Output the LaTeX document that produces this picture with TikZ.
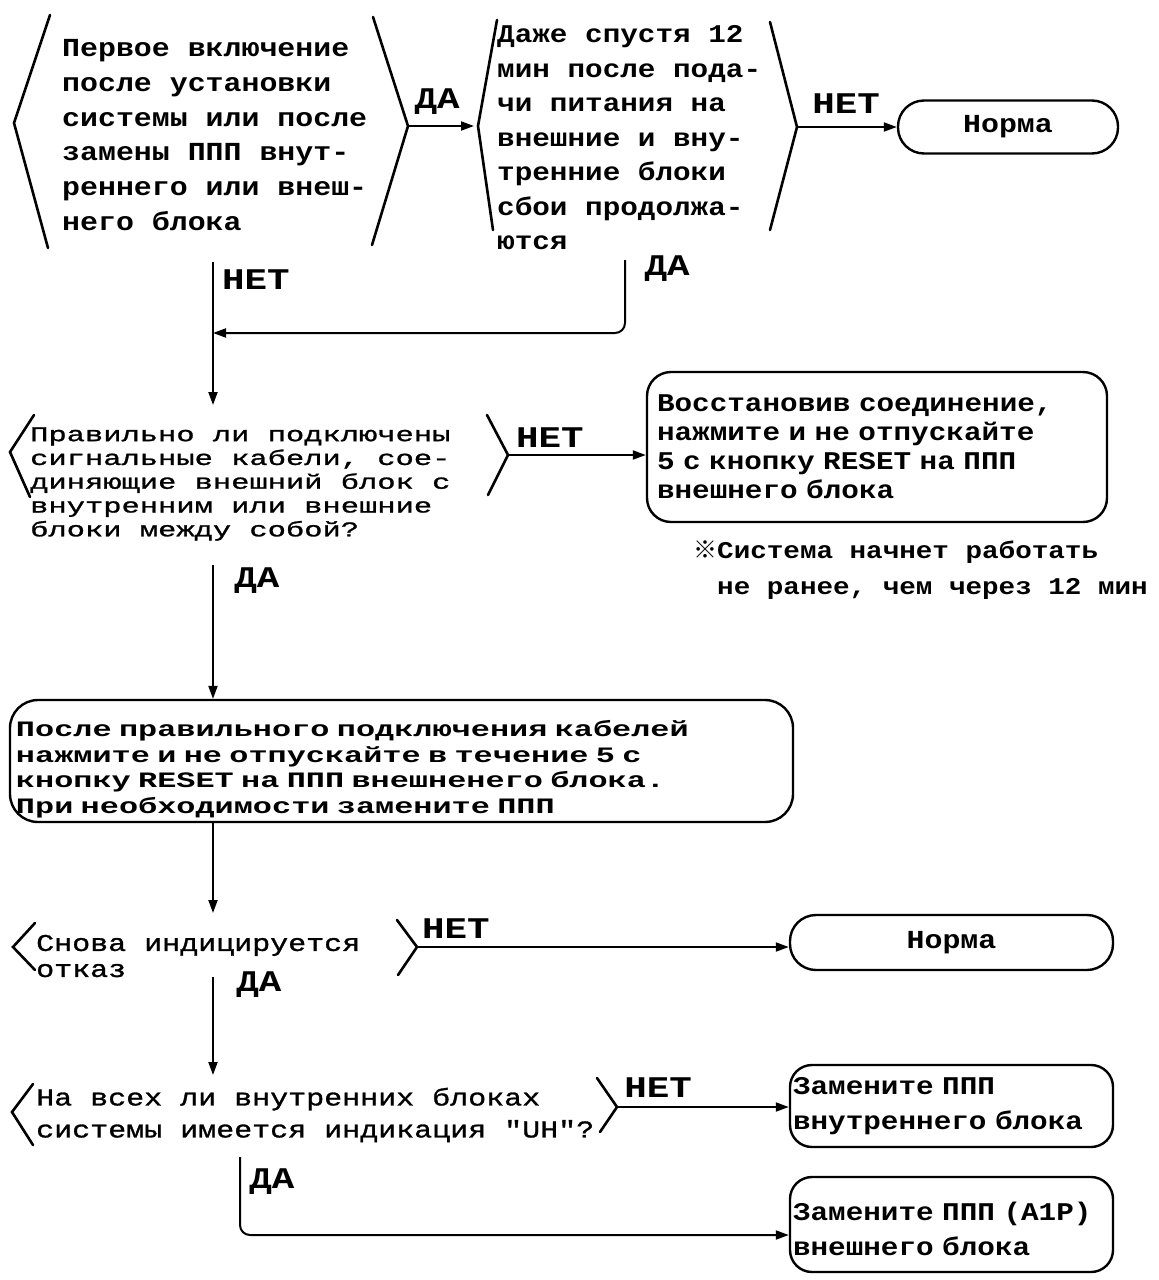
\documentclass[tikz,border=0pt]{standalone}
\usepackage{fontspec}
\setmainfont{Liberation Mono}
\newfontfamily\fwA[FakeStretch=1.15]{Liberation Mono}
\newfontfamily\fwB[FakeStretch=1.45]{Liberation Mono}
\newfontfamily\fwBm[FakeStretch=1.45,FakeBold=1.2]{Liberation Mono}
\newfontfamily\fwC[FakeStretch=1.25]{Liberation Mono}
\newfontfamily\fwCm[FakeStretch=1.25,FakeBold=1.2]{Liberation Mono}
\newfontfamily\refmark{Noto Sans CJK JP}
\usetikzlibrary{arrows.meta}
\newcommand\fsz[2]{\fontsize{#1}{#2}\selectfont}
\begin{document}
\begin{tikzpicture}[x=1pt,y=-1pt,
  bracket/.style={line width=2.6pt,line cap=round,line join=miter},
  conn/.style={line width=2pt,-{Triangle[length=13pt,width=9pt]}},
  plain/.style={line width=2pt},
  txt/.style={inner sep=0pt,align=left,anchor=west},
  lbl/.style={inner sep=0pt,font=\fwC\bfseries\fsz{30}{30}},
  rbox/.style={draw,line width=2.4pt,rounded corners=24pt,align=left,inner ysep=0pt},
  stad/.style={draw,line width=2.4pt,rounded corners=26pt,inner sep=0pt}]
\useasboundingbox[fill=white] (0,0) rectangle (1159,1280);

% ---------- Decision 1 ----------
\node[txt,font=\fwA\bfseries\fsz{26}{34.8}] (d1) at (62,135) {Первое включение\\после установки\\системы или после\\замены ППП внут-\\реннего или внеш-\\него блока};
\draw[bracket] (50,15) -- (14,123) -- (48,248);
\draw[bracket] (373,17) -- (408,126) -- (372,245);
\coordinate (d1r) at (408,126);

% ---------- Decision 2 ----------
\node[txt,font=\fwA\bfseries\fsz{25.5}{34.5}] (d2) at (497,138) {Даже спустя 12\\мин после пода-\\чи питания на\\внешние и вну-\\тренние блоки\\сбои продолжа-\\ются};
\draw[bracket] (497,20) -- (478,126) -- (493,230);
\draw[bracket] (770,22) -- (797,127) -- (770,230);
\coordinate (d2l) at (478,126);
\coordinate (d2r) at (797,127);

\node[stad,minimum width=220pt,minimum height=53pt,font=\fwA\bfseries\fsz{26}{30}] (n1) at (1008,127) {Норма};

\draw[conn,shorten >=4pt] (d1r) -- (d2l);
\node[lbl] (l1) at (437,102) {ДА};
\draw[conn] (d2r) -- (d2r -| n1.west);
\node[lbl] (l2) at (846,104) {НЕТ};

% ---------- merge ----------
\coordinate (d1b) at (213,262);
\coordinate (d2b) at (625,260);
\coordinate (m1) at (213,333);
\coordinate (d3in) at (213,405);
\draw[plain] (d1b) -- (m1);
\draw[conn] (m1) -- (d3in);
\node[lbl] (l3) at (256,280) {НЕТ};
\draw[conn,rounded corners=10pt] (d2b) -- (d2b |- m1) -- (m1);
\node[lbl] (l4) at (667,269) {ДА};

% ---------- Decision 3 ----------
\node[txt,font=\fwBm\fsz{21}{23.8}] (d3) at (30,484) {Правильно ли подключены\\сигнальные кабели, сое-\\диняющие внешний блок с\\внутренним или внешние\\блоки между собой?};
\draw[bracket] (34,415) -- (10,452) -- (30,497);
\draw[bracket] (487,415) -- (508,455) -- (488,495);
\coordinate (d3r) at (508,455);

\node[rbox,text width=440pt,inner xsep=10pt,minimum height=150pt,font=\fwA\bfseries\fsz{25.5}{29}] (b1) at (877,447) {Восстановив соединение,\\нажмите и не отпускайте\\5 с кнопку RESET на ППП\\внешнего блока};
\draw[conn] (d3r) -- (d3r -| b1.west);
\node[lbl] (l5) at (550,438) {НЕТ};

\node[txt,font=\fwA\bfseries\fsz{24}{36}] (note) at (693,570) {{\refmark ※}Система начнет работать\\\hphantom{\refmark ※}не ранее, чем через 12 мин};

% ---------- Box 2 ----------
\node[rbox,text width=771pt,inner xsep=6pt,minimum height=122pt,rounded corners=28pt,font=\fwB\bfseries\fsz{22}{25.5}] (b2) at (401.5,761) {\rule{0pt}{33pt}После правильного подключения кабелей\\нажмите и не отпускайте в течение 5 с\\кнопку RESET на ППП внешненего блока.\\При необходимости замените ППП};
\coordinate (d3b) at (213,565);
\draw[conn] (d3b) -- (d3b |- b2.north);
\node[lbl] (l6) at (257,581) {ДА};

% ---------- Decision 4 ----------
\coordinate (d4in) at (213,913);
\draw[conn] (b2.south -| d4in) -- (d4in);
\node[txt,font=\fwCm\fsz{24}{26}] (d4) at (36,956) {Снова индицируется\\отказ};
\draw[bracket] (35,923) -- (13,947) -- (35,970);
\draw[bracket] (397,920) -- (417,947) -- (398,975);
\coordinate (d4r) at (417,947);
\node[stad,minimum width=323pt,minimum height=55pt,font=\fwA\bfseries\fsz{26}{30}] (n2) at (951.5,942.5) {Норма};
\draw[conn] (d4r) -- (d4r -| n2.west);
\node[lbl] (l7) at (456,929) {НЕТ};

\coordinate (d4b) at (213,977);
\coordinate (d5in) at (213,1075);
\draw[conn] (d4b) -- (d5in);
\node[lbl] (l8) at (259,985) {ДА};

% ---------- Decision 5 ----------
\node[txt,font=\fwCm\fsz{24}{32}] (d5) at (36,1115) {На всех ли внутренних блоках\\системы имеется индикация "UH"?};
\draw[bracket] (33,1084) -- (12,1112) -- (33,1145);
\draw[bracket] (597,1078) -- (617,1107) -- (600,1132);
\coordinate (d5r) at (617,1107);

\node[rbox,text width=317pt,inner xsep=3pt,minimum height=82pt,rounded corners=22pt,font=\fwA\bfseries\fsz{25.5}{35}] (r1) at (951.5,1106) {Замените ППП\\внутреннего блока};
\draw[conn] (d5r) -- (d5r -| r1.west);
\node[lbl] (l9) at (658,1088) {НЕТ};

\node[rbox,text width=317pt,inner xsep=3pt,minimum height=95pt,rounded corners=22pt,font=\fwA\bfseries\fsz{25.5}{35}] (r2) at (951.5,1224.5) {\rule{0pt}{28pt}Замените ППП (A1P)\\внешнего блока};
\coordinate (d5b) at (240,1157);
\coordinate (d5c) at (240,1235);
\draw[conn,rounded corners=10pt] (d5b) -- (d5c) -- (d5c -| r2.west);
\node[lbl] (l10) at (272,1182) {ДА};
\end{tikzpicture}
\end{document}
